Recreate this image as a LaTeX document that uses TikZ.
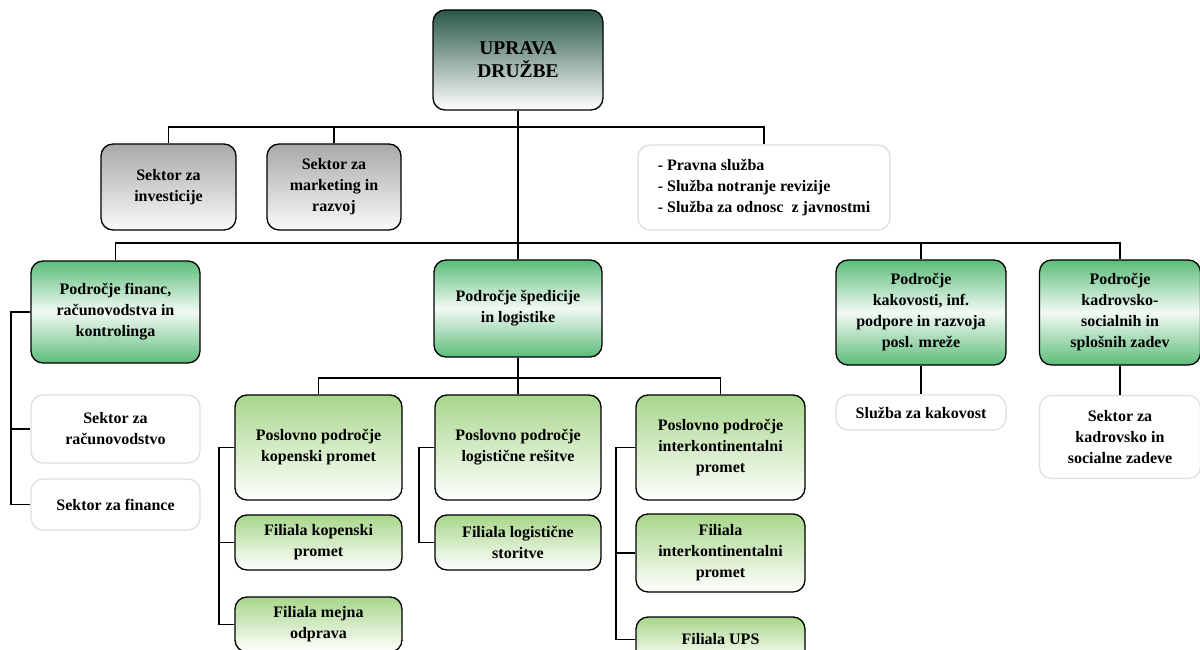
\documentclass[tikz,border=0pt]{standalone}
\usepackage{fontspec}
\setmainfont{Liberation Serif}
\usepackage{tikz}

\definecolor{topgreen}{RGB}{42,88,72}
\definecolor{pgreen}{RGB}{92,188,122}
\definecolor{lgreen}{RGB}{168,214,138}

\begin{document}
\begin{tikzpicture}[x=1pt, y=-1pt,
    box/.style={draw, line width=1.3pt, rounded corners=12pt, align=center, inner sep=2pt,
        font=\bfseries\fontsize{16}{21}\selectfont},
    uprava/.style={box, top color=topgreen, bottom color=white,
        font=\bfseries\fontsize{19.5}{23}\selectfont},
    sektor/.style={box, top color=gray!68, bottom color=gray!4},
    podrocje/.style={box, top color=pgreen, bottom color=pgreen, middle color=pgreen!8},
    poslovno/.style={box, top color=lgreen, bottom color=white},
    bela/.style={box, draw=gray!25, fill=white},
    povezava/.style={line width=1.8pt}]
    \useasboundingbox (0,0) rectangle (1200,650);

    % vrh
    \node[uprava, minimum width=170pt, minimum height=100pt] (uprava) at (518,60) {UPRAVA\\DRUŽBE};
    \node[sektor, minimum width=135pt, minimum height=86pt] (inv) at (168.5,187) {Sektor za\\investicije};
    \node[sektor, minimum width=134pt, minimum height=86pt] (mark) at (334,187) {Sektor za\\marketing in\\razvoj};
    \node[bela, align=left, minimum width=252pt, minimum height=85pt] (pravna) at (764,187.5)
        {- Pravna služba\\- Služba notranje revizije\\- Služba za odnosc\ \ z javnostmi};

    % podrocja
    \node[podrocje, minimum width=169pt, minimum height=102pt] (fin) at (115.5,312) {Področje financ,\\računovodstva in\\kontrolinga};
    \node[podrocje, minimum width=168pt, minimum height=97pt] (sped) at (518,308.5) {Področje špedicije\\in logistike};
    \node[podrocje, minimum width=170pt, minimum height=105pt] (kak) at (921,312.5) {Področje\\kakovosti, inf.\\podpore in razvoja\\posl. mreže};
    \node[podrocje, minimum width=161pt, minimum height=105pt] (kad) at (1120,312.5) {Področje\\kadrovsko-\\socialnih in\\splošnih zadev};

    % sektorji pod podrocji
    \node[bela, minimum width=169pt, minimum height=68pt] (rac) at (115.5,429) {Sektor za\\računovodstvo};
    \node[bela, minimum width=169pt, minimum height=51pt] (sfin) at (115.5,504.5) {Sektor za finance};
    \node[bela, minimum width=170pt, minimum height=35pt] (skak) at (921,412.5) {Služba za kakovost};
    \node[bela, minimum width=161pt, minimum height=83pt] (skad) at (1120,437) {Sektor za\\kadrovsko in\\socialne zadeve};

    % poslovna podrocja
    \node[poslovno, minimum width=167pt, minimum height=105pt] (kop) at (318.5,447.5) {Poslovno področje\\kopenski promet};
    \node[poslovno, minimum width=166pt, minimum height=105pt] (log) at (518,447.5) {Poslovno področje\\logistične rešitve};
    \node[poslovno, minimum width=169pt, minimum height=105pt] (int) at (720.5,447.5) {Poslovno področje\\interkontinentalni\\promet};
    \node[poslovno, minimum width=167pt, minimum height=55pt] (fkop) at (318.5,542.5) {Filiala kopenski\\promet};
    \node[poslovno, minimum width=167pt, minimum height=55pt] (fmej) at (318.5,624.5) {Filiala mejna\\odprava};
    \node[poslovno, minimum width=166pt, minimum height=55pt] (flog) at (518,542.5) {Filiala logistične\\storitve};
    \node[poslovno, minimum width=169pt, minimum height=78pt] (fint) at (720.5,553) {Filiala\\interkontinentalni\\promet};
    \node[poslovno, minimum width=169pt, minimum height=45pt] (fups) at (720.5,639.5) {Filiala UPS};

    % povezave
    \coordinate (r1) at (518,127);
    \coordinate (r2) at (518,243);
    \coordinate (r3) at (518,378);
    \draw[povezava] (uprava.south) -- (r2);
    \foreach \n in {inv,mark,pravna}
        \draw[povezava] (r1) -| (\n.north);
    \foreach \n in {fin,sped,kak,kad}
        \draw[povezava] (r2) -| (\n.north);
    \draw[povezava] (sped.south) -- (r3);
    \foreach \n in {kop,log,int}
        \draw[povezava] (r3) -| (\n.north);
    \draw[povezava] (kak.south) -- (skak.north);
    \draw[povezava] (kad.south) -- (skad.north);
    \foreach \n in {rac,sfin}
        \draw[povezava] (fin.west) -- ++(-19,0) |- (\n.west);
    \foreach \n in {fkop,fmej}
        \draw[povezava] (kop.west) -- ++(-15,0) |- (\n.west);
    \draw[povezava] (log.west) -- ++(-15,0) |- (flog.west);
    \foreach \n in {fint,fups}
        \draw[povezava] (int.west) -- ++(-19,0) |- (\n.west);
\end{tikzpicture}
\end{document}
